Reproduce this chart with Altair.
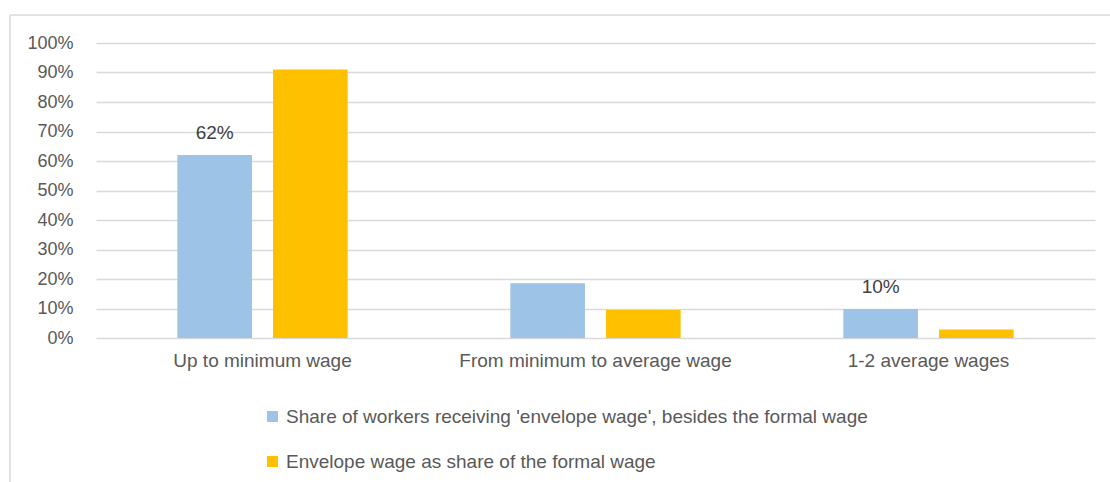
import altair as alt
import pandas as pd

categories = ["Up to minimum wage", "From minimum to average wage", "1-2 average wages"]
series_names = [
    "Share of workers receiving 'envelope wage', besides the formal wage",
    "Envelope wage as share of the formal wage",
]
share_workers = [0.62, 0.186, 0.098]
envelope_share = [0.91, 0.095, 0.029]
bar_labels = ["62%", "", "10%"]
colors = ["#9DC3E6", "#FFC000"]
y_ticks = [0, 0.1, 0.2, 0.3, 0.4, 0.5, 0.6, 0.7, 0.8, 0.9, 1.0]

FONT = "Liberation Sans"
GRAY = "#595959"

rows = []
for i, c in enumerate(categories):
    rows.append(dict(category=c, series=series_names[0], value=share_workers[i], label=bar_labels[i]))
    rows.append(dict(category=c, series=series_names[1], value=envelope_share[i], label=""))
df = pd.DataFrame(rows)

x_enc = alt.X(
    "category:N",
    sort=categories,
    scale=alt.Scale(paddingInner=0, paddingOuter=0),
    axis=alt.Axis(
        title=None, labelAngle=0, labelFontSize=19, labelColor=GRAY, labelFont=FONT,
        labelPadding=13, ticks=False, domain=False, labelLimit=400,
    ),
)
xo_enc = alt.XOffset(
    "series:N",
    sort=series_names,
    scale=alt.Scale(domain=series_names, paddingInner=0.22, paddingOuter=0.85),
)
y_enc = alt.Y(
    "value:Q",
    scale=alt.Scale(domain=[0, 1]),
    axis=alt.Axis(
        title=None, format=".0%", values=y_ticks, labelFontSize=18, labelColor=GRAY,
        labelFont=FONT, labelPadding=23, ticks=False, domain=False,
        gridColor="#d9d9d9", gridWidth=1.5,
    ),
)
color_enc = alt.Color(
    "series:N",
    sort=series_names,
    scale=alt.Scale(domain=series_names, range=colors),
    legend=alt.Legend(
        title=None, orient="none", legendX=167, legendY=364, direction="vertical",
        symbolType="square", symbolSize=121, symbolStrokeWidth=0,
        labelFontSize=19, labelColor=GRAY, labelFont=FONT, labelLimit=900,
        rowPadding=25, labelOffset=4, padding=0,
    ),
)

bars = alt.Chart(df).mark_bar().encode(x=x_enc, xOffset=xo_enc, y=y_enc, color=color_enc)

text = alt.Chart(df).mark_text(
    dy=-16, fontSize=19, color="#404040", font=FONT, baseline="alphabetic"
).encode(x=x_enc, xOffset=xo_enc, y=y_enc, text="label:N")

border_df = pd.DataFrame({"k": [0]})
border_left = alt.Chart(border_df).mark_rule(color="#d9d9d9", strokeWidth=1.5).encode(
    x=alt.value(-86), y=alt.value(-28), y2=alt.value(439)
)
border_top = alt.Chart(border_df).mark_rule(color="#d9d9d9", strokeWidth=1.5).encode(
    x=alt.value(-86), x2=alt.value(1014), y=alt.value(-28)
)

chart = alt.layer(bars, text, border_left, border_top).properties(
    width=999,
    height=295,
    padding={"left": 96, "top": 43, "right": 15, "bottom": 144},
    autosize=alt.AutoSizeParams(type="none"),
    background="white",
).configure_view(stroke=None)

chart.save("out.html", embed_options={"renderer": "svg", "actions": False})
